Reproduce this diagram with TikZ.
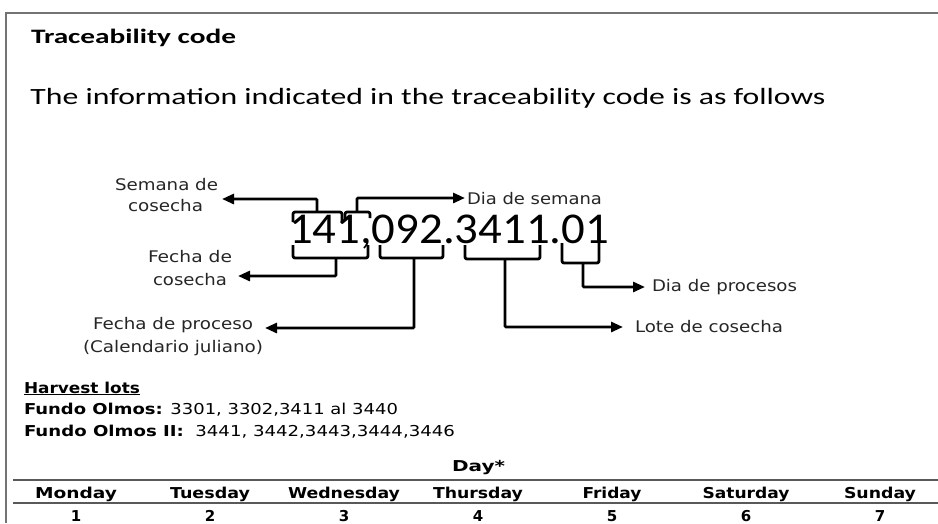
\documentclass[tikz,border=0pt]{standalone}
\usepackage{fontspec}
\setmainfont{Carlito}
\newfontfamily\vfont{DejaVu Sans}
\usetikzlibrary{arrows.meta}
\newcommand\fw[2]{\resizebox{#1pt}{\height}{#2}}
\newcommand\labfont{\vfont\fontsize{16}{19}\selectfont\color{black!85}}
\newcommand\botfont{\vfont\fontsize{15}{18}\selectfont}
\tikzset{
  txt/.style={inner sep=0pt, outer sep=0pt, anchor=base west},
  ctxt/.style={inner sep=0pt, outer sep=0pt, anchor=base},
  brk/.style={line width=2.8pt, line join=round, rounded corners=2pt},
  arr/.style={line width=2.8pt, -{Triangle[length=12pt,width=10pt]}, rounded corners=1pt},
  framel/.style={draw=black!55, line width=1.8pt},
  rulel/.style={draw=black!65, line width=1.6pt},
}
\begin{document}
\begin{tikzpicture}[x=1pt,y=-1pt]
\useasboundingbox (0,0) rectangle (938,523);
\fill[white] (0,0) rectangle (938,523);
\draw[framel] (6,523) -- (6,13) -- (938,13);

% heading texts
\node[txt] (title) at (31,43.3) {\fw{205}{\fontsize{20.5}{24}\selectfont\bfseries Traceability code}};
\node[txt] (intro) at (30.5,104.3) {\fw{795}{\fontsize{23.3}{27}\selectfont The information indicated in the traceability code is as follows}};
\node[txt] (code) at (289,243) {\fw{320}{\fontsize{44}{50}\selectfont 141,092.3411.01}};

% labels
\node[txt] (sem1) at (115,190.5) {\fw{103}{\labfont Semana de}};
\node[txt] (sem2) at (128,211.5) {\fw{75}{\labfont cosecha}};
\node[txt] (fc1) at (148,262.5) {\fw{84}{\labfont Fecha de}};
\node[txt] (fc2) at (153,285) {\fw{74}{\labfont cosecha}};
\node[txt] (fp1) at (93,329) {\fw{160}{\labfont Fecha de proceso}};
\node[txt] (fp2) at (83,352) {\fw{180}{\labfont (Calendario juliano)}};
\node[txt] (ds) at (467,204) {\fw{135}{\labfont Dia de semana}};
\node[txt] (dp) at (652,291) {\fw{145}{\labfont Dia de procesos}};
\node[txt] (lc) at (635,332) {\fw{148}{\labfont Lote de cosecha}};

% bracket stems and arrow ends
\coordinate (s1) at (317,212);  \coordinate (e1) at (222,199);
\coordinate (s2) at (357,212);  \coordinate (e2) at (465,198);
\coordinate (s3) at (336,258);  \coordinate (e3) at (238,276);
\coordinate (s4) at (414,258);  \coordinate (e4) at (265,328);
\coordinate (s5) at (505,259);  \coordinate (e5) at (623,327);
\coordinate (s6) at (583,263);  \coordinate (e6) at (645,287);

% brackets
\draw[brk] (293,222) -- (293,212) -- (342,212) -- (342,222);
\draw[brk] (345,220) -- (345,212) -- (370,212) -- (370,218);
\draw[brk] (293,245) -- (293,258) -- (368,258) -- (368,245);
\draw[brk] (380,245) -- (380,258) -- (443,258) -- (443,245);
\draw[brk] (465,245) -- (465,259) -- (540,259) -- (540,245);
\draw[brk] (562,243) -- (562,263) -- (599,263) -- (599,240);

% arrows
\draw[arr] (s1) |- (e1);
\draw[arr] (s2) |- (e2);
\draw[arr] (s3) |- (e3);
\draw[arr] (s4) |- (e4);
\draw[arr] (s5) |- (e5);
\draw[arr] (s6) |- (e6);

% harvest lots
\node[txt] (hl) at (24,393) {\fw{116}{\botfont\bfseries\underline{Harvest lots}}};
\node[txt] (fo1) at (24,414.3) {\fw{374}{\botfont\textbf{Fundo Olmos:} 3301, 3302,3411 al 3440}};
\node[txt] (fo2) at (24,436.7) {\fw{431}{\botfont\textbf{Fundo Olmos II:}\ \ 3441, 3442,3443,3444,3446}};

% table
\node[ctxt] (day) at (478.5,471) {\fw{53}{\botfont\bfseries Day*}};
\draw[rulel] (13,480) -- (938,480);
\draw[rulel] (13,503) -- (938,503);
\foreach \nm/\x/\w/\num in {Monday/76/82/1, Tuesday/210/80/2, Wednesday/344/112/3, Thursday/478/90/4, Friday/612/59/5, Saturday/746/87/6, Sunday/880/72/7}{
  \node[ctxt] (d\num) at (\x,498) {\fw{\w}{\botfont\bfseries \nm}};
  \node[ctxt] (n\num) at (\x,521) {\botfont\bfseries \num};
}
\end{tikzpicture}
\end{document}
